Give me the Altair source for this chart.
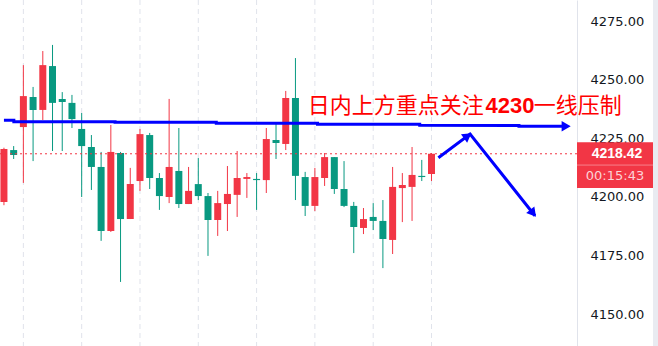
import altair as alt
import pandas as pd

# ---- candle data ----
opens = [4197.9, 4220.0, 4229.8, 4242.6, 4237.1, 4255.8, 4241.8, 4240.1, 4229.0, 4221.3,
         4212.8, 4185.5, 4218.75, 4190.6, 4206.8, 4226.4, 4208.1, 4200.0, 4211.1, 4197.0,
         4205.5, 4200.4, 4190.2, 4197.0, 4200.9, 4207.7, 4207.7, 4207.2, 4224.3, 4222.6,
         4242.2, 4208.5, 4196.2, 4208.1, 4217.0, 4203.4, 4196.2, 4186.8, 4191.5, 4189.8,
         4181.7, 4203.8, 4204.3, 4209.0, 4209.8]
highs = [4221.0, 4221.7, 4256.2, 4246.9, 4262.2, 4264.8, 4244.7, 4243.5, 4235.8, 4226.4,
         4219.2, 4230.7, 4219.2, 4212.4, 4229.0, 4227.3, 4210.2, 4241.8, 4229.4, 4212.8,
         4216.6, 4201.7, 4202.6, 4213.2, 4219.6, 4210.2, 4210.2, 4229.4, 4231.1, 4245.2,
         4259.2, 4210.7, 4212.4, 4218.75, 4217.0, 4215.3, 4197.9, 4195.3, 4197.4, 4198.7,
         4212.8, 4210.2, 4221.3, 4215.8, 4218.75]
lows = [4196.5, 4216.2, 4206.0, 4215.3, 4232.8, 4219.6, 4219.6, 4229.4, 4200.0, 4203.0,
        4181.3, 4185.1, 4163.8, 4190.6, 4202.6, 4203.4, 4194.5, 4197.4, 4195.3, 4197.0,
        4198.7, 4174.9, 4183.4, 4185.5, 4191.5, 4199.6, 4194.5, 4201.7, 4216.2, 4220.0,
        4198.7, 4191.9, 4194.0, 4204.7, 4201.3, 4195.7, 4176.1, 4184.2, 4185.9, 4169.7,
        4175.7, 4189.3, 4189.8, 4206.8, 4206.8]
closes = [4220.5, 4217.9, 4243.0, 4237.1, 4256.2, 4240.1, 4240.5, 4233.2, 4221.7, 4212.8,
          4185.5, 4219.2, 4190.6, 4205.5, 4226.8, 4208.1, 4200.4, 4212.8, 4197.0, 4202.6,
          4200.4, 4190.2, 4197.4, 4201.3, 4208.1, 4208.5, 4207.2, 4224.7, 4223.0, 4242.2,
          4209.0, 4196.2, 4208.5, 4217.0, 4203.4, 4196.2, 4187.2, 4190.6, 4189.8, 4182.1,
          4204.3, 4205.1, 4209.4, 4208.5, 4218.42]
idx = list(range(1, len(opens) + 1))

grid_idx = [3, 9, 15, 21, 27, 33, 39, 45]
y_ticks = [4150, 4175, 4200, 4225, 4250, 4275]

last_close = 4218.42
last_label = "4218.42"
countdown = "00:15:43"

# hand-drawn resistance line
res_x = [1.0, 2.019, 2.019, 12.436, 12.436, 22.853, 22.853, 33.27, 33.27, 43.788,
         43.788, 54.002, 54.002, 58.756]
res_y = [4232.73, 4232.73, 4232.09, 4232.09, 4231.83, 4231.83, 4231.41, 4231.41, 4230.98,
         4230.98, 4230.55, 4230.43, 4230.13, 4230.13]

# zig-zag arrow
zig_x = [45.71, 48.97, 55.65]
zig_y = [4216.75, 4226.85, 4192.03]

# arrow heads
head_x = [58.86, 48.73, 55.46]
head_y = [4230.13, 4226.08, 4193.06]
head_angle = [90, 54, 141]

# annotation text
note_text = ["日内上方重点关注", "一线压制"]
note_x = [32.26, 55.52]
note_bold = ["4230"]
note_bold_x = [50.56]
note_y = 4238.6

UP = "#F23645"
DOWN = "#089981"
BLUE = "#0000ff"

df = pd.DataFrame({"i": idx, "open": opens, "high": highs, "low": lows, "close": closes})
df["dir"] = ["up" if c >= o else "down" for o, c in zip(opens, closes)]

xs = alt.Scale(domain=[1.109, 59.46], nice=False, zero=False)
ys = alt.Scale(domain=[4136.5, 4283.95], nice=False, zero=False)
yax = alt.Axis(
    orient="right", values=y_ticks, format=".2f", title=None, ticks=False,
    labelPadding=13, labelFont="DejaVu Sans", labelFontSize=13, labelColor="#131722",
    domainColor="#e0e3eb", grid=False, zindex=0)
col = alt.Color("dir:N", scale=alt.Scale(domain=["up", "down"], range=[UP, DOWN]), legend=None)


def Y(field):
    return alt.Y(field, scale=ys, axis=yax, title=None)


def X(field):
    return alt.X(field, scale=xs, axis=None)


base = alt.Chart(df)

grid = alt.Chart(pd.DataFrame({"g": grid_idx})).mark_rule(
    color="#e0e3eb", strokeDash=[5, 4], strokeWidth=1
).encode(x=X("g:Q"))

wicks = base.mark_rule(strokeWidth=1).encode(
    x=X("i:Q"), y=Y("low:Q"), y2="high:Q", color=col,
)

bodies = base.mark_bar(width=7).encode(
    x=X("i:Q"), y=Y("open:Q"), y2="close:Q", color=col,
)

pdf = pd.DataFrame({"p": [last_close], "lab": [last_label], "cd": [countdown]})

price_line = alt.Chart(pdf).mark_rule(color=UP, strokeDash=[2, 3], strokeWidth=1).encode(
    y=Y("p:Q")
)

res_df = pd.DataFrame({"x": res_x, "y": res_y, "o": list(range(len(res_x)))})
res_line = alt.Chart(res_df).mark_line(color=BLUE, strokeWidth=3).encode(
    x=X("x:Q"), y=Y("y:Q"), order="o:Q",
)

zig_df = pd.DataFrame({"x": zig_x, "y": zig_y, "o": list(range(len(zig_x)))})
zig_line = alt.Chart(zig_df).mark_line(color=BLUE, strokeWidth=3).encode(
    x=X("x:Q"), y=Y("y:Q"), order="o:Q",
)

head_df = pd.DataFrame({"x": head_x, "y": head_y, "a": head_angle})
heads = alt.Chart(head_df).mark_point(
    shape="triangle-up", filled=True, size=110, color=BLUE, opacity=1
).encode(
    x=X("x:Q"), y=Y("y:Q"), angle=alt.Angle("a:Q", scale=None),
)

note_df = pd.DataFrame({"t": note_text, "x": note_x, "y": [note_y] * len(note_text)})
notes = alt.Chart(note_df).mark_text(
    align="left", baseline="middle", font="Noto Sans CJK SC", fontSize=22, color="#ff0000"
).encode(x=X("x:Q"), y=Y("y:Q"), text="t:N")

bold_df = pd.DataFrame({"t": note_bold, "x": note_bold_x, "y": [note_y]})
notes_bold = alt.Chart(bold_df).mark_text(
    align="left", baseline="middle", font="Liberation Sans", fontWeight="bold",
    fontSize=22, color="#ff0000"
).encode(x=X("x:Q"), y=Y("y:Q"), text="t:N")

box = alt.Chart(pdf).mark_rect(color=UP, yOffset=-11.4, y2Offset=34.3).encode(
    x=alt.value(577), x2=alt.value(655), y=Y("p:Q"), y2="p:Q",
)
divider = alt.Chart(pdf).mark_rule(color="#f7808b", strokeWidth=1, yOffset=11.3).encode(
    x=alt.value(577), x2=alt.value(655), y=Y("p:Q"),
)
box_price = alt.Chart(pdf).mark_text(
    align="center", baseline="middle", font="Liberation Sans", fontWeight="bold",
    fontSize=14, color="#ffffff", dy=0.5
).encode(x=alt.value(617), y=Y("p:Q"), text="lab:N")
box_cd = alt.Chart(pdf).mark_text(
    align="center", baseline="middle", font="DejaVu Sans", fontSize=13,
    color="#fcd2d6", dy=22
).encode(x=alt.value(615), y=Y("p:Q"), text="cd:N")

edge = alt.Chart(pdf).mark_rect(color="#e9ebf1").encode(
    x=alt.value(653), x2=alt.value(660), y=alt.value(0), y2=alt.value(346)
)

chart = alt.layer(
    grid, wicks, bodies, price_line, res_line, zig_line, heads,
    notes, notes_bold, box, divider, box_price, box_cd, edge
).properties(
    width=577, height=346,
    autosize=alt.AutoSizeParams(type="none"),
    padding={"left": 0, "top": 0, "right": 81, "bottom": 0},
    background="#ffffff",
).configure_view(stroke=None)

chart.save("out.html", embed_options={"renderer": "svg", "actions": False})
